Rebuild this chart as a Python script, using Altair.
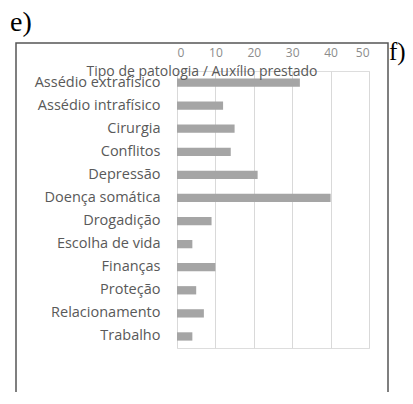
import altair as alt
import pandas as pd

categories = ["Assédio extrafísico", "Assédio intrafísico", "Cirurgia", "Conflitos",
              "Depressão", "Doença somática", "Drogadição", "Escolha de vida",
              "Finanças", "Proteção", "Relacionamento", "Trabalho"]
values = [32, 12, 15, 14, 21, 40, 9, 4, 10, 5, 7, 4]
x_ticks = [0, 10, 20, 30, 40, 50]
title_text = "Tipo de patologia / Auxílio prestado"

df = pd.DataFrame({"cat": categories, "val": values})
one = alt.Data(values=[{"a": 1}])

LABEL_FONT = "Open Sans"

bars = alt.Chart(df).mark_bar(color="#a5a5a5").encode(
    x=alt.X("val:Q",
            scale=alt.Scale(domain=[0, 50], nice=False),
            axis=alt.Axis(orient="top", values=x_ticks, title=None, grid=True,
                          gridColor="#d9d9d9", gridWidth=1, domain=False,
                          ticks=False, tickSize=0, labelPadding=12,
                          labelFont=LABEL_FONT, labelFontSize=12,
                          labelColor="#8c8c8c")),
    y=alt.Y("cat:N", sort=categories,
            scale=alt.Scale(paddingInner=0.64, paddingOuter=0.32),
            axis=alt.Axis(title=None, domain=False, ticks=False, tickSize=0,
                          labelPadding=17, labelFont=LABEL_FONT,
                          labelFontSize=14.5, labelColor="#595959",
                          labelLimit=300)),
)

frame = alt.Chart(one).mark_rect(filled=False, stroke="#555555", strokeWidth=1.5).encode(
    x=alt.value(-161), x2=alt.value(211), y=alt.value(-28), y2=alt.value(360)
)

title = alt.Chart(one).mark_text(font=LABEL_FONT, fontSize=14, color="#595959",
                                 align="center", baseline="middle").encode(
    x=alt.value(25), y=alt.value(1), text=alt.value(title_text)
)

e_lab = alt.Chart(one).mark_text(font="Liberation Serif", fontSize=28, color="#000000",
                                 align="left", baseline="alphabetic").encode(
    x=alt.value(-167), y=alt.value(-40), text=alt.value("e)")
)
f_lab = alt.Chart(one).mark_text(font="Liberation Serif", fontSize=25, color="#000000",
                                 align="left", baseline="alphabetic").encode(
    x=alt.value(212), y=alt.value(-11), text=alt.value("f)")
)

chart = alt.layer(frame, bars, title, e_lab, f_lab).properties(
    width=192, height=277,
    autosize=alt.AutoSizeParams(type="none"),
    padding={"left": 169, "top": 63, "right": 36, "bottom": 44},
).configure_view(stroke=None).configure(background="white")

chart.save("out.html", embed_options={"renderer": "svg", "actions": False})
